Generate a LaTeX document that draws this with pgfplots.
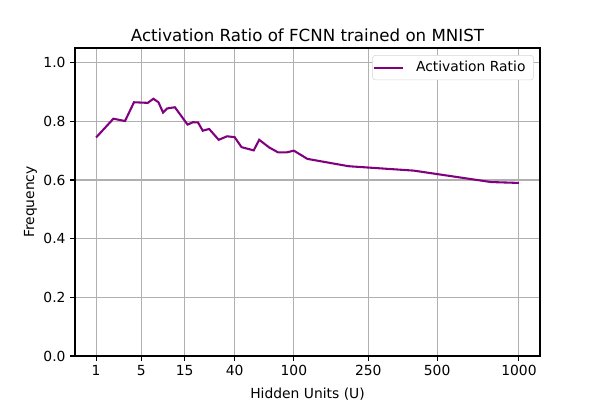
\documentclass[border=0pt]{standalone}
\usepackage{pgfplots}
\pgfplotsset{compat=1.18}
\usepackage{fontspec}
\setmainfont{DejaVu Sans}
\definecolor{mplpurple}{HTML}{800080}
\definecolor{gridgray}{HTML}{B0B0B0}
\definecolor{legframe}{HTML}{D5D5D5}
\begin{document}
\begin{tikzpicture}
\begin{axis}[
  scale only axis,
  width=348.75pt, height=231pt,
  x coord trafo/.code={\pgfmathparse{(#1)^0.25}},
  x coord inv trafo/.code={\pgfmathparse{(#1)^4}},
  xmin=0.35, xmax=1174,
  ymin=0, ymax=1.05,
  xtick={1,5,15,40,100,250,500,1000},
  xticklabels={1,5,15,40,100,250,500,1000},
  ytick={0,0.2,0.4,0.6,0.8,1.0},
  yticklabel style={/pgf/number format/.cd,fixed,fixed zerofill,precision=1},
  /pgf/number format/assume math mode=true,
  tick label style={font=\fontsize{10.4}{12}\selectfont},
  label style={font=\fontsize{10.4}{12}\selectfont},
  title style={font=\fontsize{12.5}{14}\selectfont, at={(0.5,1)}, anchor=south, yshift=-4.5pt},
  title={Activation Ratio of FCNN trained on MNIST},
  xlabel={Hidden Units (U)},
  ylabel={Frequency},
  xlabel style={yshift=-2pt},
  ylabel style={yshift=-2pt},
  grid=major,
  grid style={gridgray, line width=0.83pt},
  axis line style={line width=0.83pt},
  tick align=outside,
  major tick length=3.6pt,
  tick style={black, line width=0.83pt},
  xtick pos=left, ytick pos=left,
  legend image code/.code={\draw[#1] (0pt,0pt) -- (22pt,0pt);},
  legend style={at={(0.9865,0.977)}, anchor=north east, font=\fontsize{10.4}{12}\selectfont,
    draw=legframe, rounded corners=2pt, inner xsep=0pt, inner ysep=2.5pt, column sep=7pt},
  legend cell align=left,
]
\addplot[mplpurple, line width=1.56pt] coordinates {
(1,0.745)(2,0.809)(3,0.801)(4,0.865)(6,0.863)(7,0.877)(8,0.865)(9,0.830)(10,0.844)(12,0.848)
(16,0.789)(18,0.797)(20,0.796)(22,0.768)(25,0.774)(30,0.737)(35,0.749)(40,0.746)(45,0.712)
(55,0.701)(60,0.737)(70,0.711)(80,0.694)(90,0.694)(100,0.700)(120,0.672)(200,0.647)
(400,0.632)(800,0.593)(1000,0.590)
};
\addlegendentry{Activation Ratio\kern4pt}
\end{axis}
\pgfresetboundingbox
\path (current axis.south west) ++(-56.25pt,-33pt) coordinate (bl);
\path (current axis.north east) ++(45pt,36pt) coordinate (tr);
\path[use as bounding box] (bl) rectangle (tr);
\end{tikzpicture}
\end{document}
